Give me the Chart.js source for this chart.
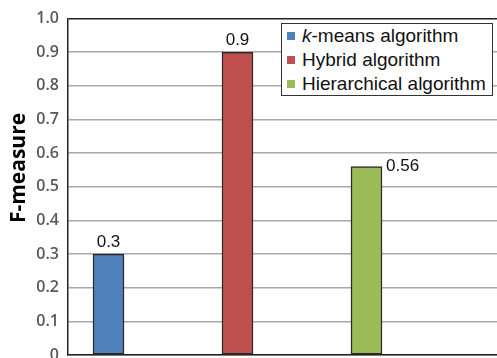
<!doctype html>
<html lang="en">
<head>
  <meta charset="utf-8">
  <title>F-measure</title>
  <script src="https://cdn.jsdelivr.net/npm/chart.js@4"></script>
  <style>
    html, body { margin: 0; padding: 0; background: #fff; overflow: hidden; }
    #wrap { position: relative; width: 530px; height: 380px; }
    #legend {
      position: absolute; left: 281px; top: 23px; width: 210px; height: 70px;
      border: 1px solid #333; background: #fff;
      font: 19px "Liberation Sans", Arial, sans-serif; color: #111;
      padding-top: 1px; box-sizing: content-box;
    }
    #legend div { height: 24px; line-height: 22px; white-space: nowrap; }
    #legend span.sw { display: inline-block; width: 8px; height: 8px; margin: 0 7px 0 5px; vertical-align: 2px; }
  </style>
</head>
<body>
  <div id="wrap">
    <canvas id="chart" width="530" height="380"></canvas>
    <div id="legend"></div>
  </div>

  <script>
    // data
    var algos = ['k-means algorithm', 'Hybrid algorithm', 'Hierarchical algorithm'];
    var fmeasure = [0.3, 0.9, 0.56];
    var colors = ['#4F81BD', '#C0504D', '#9BBB59'];
    var yTicks = [0, 0.1, 0.2, 0.3, 0.4, 0.5, 0.6, 0.7, 0.8, 0.9, 1.0];
    var yTitle = 'F-measure';

    // html legend (italic k)
    var leg = document.getElementById('legend');
    for (var i = 0; i < algos.length; i++) {
      var row = document.createElement('div');
      var sw = document.createElement('span');
      sw.className = 'sw';
      sw.style.background = colors[i];
      row.appendChild(sw);
      var name = algos[i];
      if (name.indexOf('k-') == 0) {
        var it = document.createElement('i');
        it.textContent = 'k';
        row.appendChild(it);
        row.appendChild(document.createTextNode(name.substring(1)));
      } else {
        row.appendChild(document.createTextNode(name));
      }
      leg.appendChild(row);
    }

    var datasets = [];
    for (var i = 0; i < algos.length; i++) {
      datasets.push({
        label: algos[i],
        data: [{ x: i + 1, y: fmeasure[i] }],
        backgroundColor: colors[i],
        borderColor: '#2a2a2a',
        borderWidth: 1.5,
        borderSkipped: false,
        barThickness: 31,
        grouped: false
      });
    }

    // where to put each value label
    var labelPlace = ['top', 'top', 'right'];

    const valueLabels = {
      id: 'valueLabels',
      afterDatasetsDraw(chart) {
        var ctx = chart.ctx;
        ctx.save();
        ctx.font = '17px "Liberation Sans", Arial, sans-serif';
        ctx.fillStyle = '#111';
        chart.data.datasets.forEach(function (ds, i) {
          var bar = chart.getDatasetMeta(i).data[0];
          var txt = String(fmeasure[i]);
          if (labelPlace[i] == 'right') {
            ctx.textAlign = 'left';
            ctx.textBaseline = 'middle';
            ctx.fillText(txt, bar.x + bar.width / 2 + 4, bar.y);
          } else {
            ctx.textAlign = 'center';
            ctx.textBaseline = 'bottom';
            ctx.fillText(txt, bar.x, bar.y - 3);
          }
        });
        ctx.restore();
      }
    };

    // axis title, sits a bit above the middle in the original
    const sideTitle = {
      id: 'sideTitle',
      afterDraw(chart) {
        var ctx = chart.ctx;
        ctx.save();
        ctx.translate(19, 168);
        ctx.rotate(-Math.PI / 2);
        ctx.font = 'bold 21px "Open Sans", sans-serif';
        ctx.fillStyle = '#000';
        ctx.textAlign = 'center';
        ctx.textBaseline = 'middle';
        ctx.fillText(yTitle, 0, 0);
        ctx.restore();
      }
    };

    new Chart(document.getElementById('chart'), {
      type: 'bar',
      data: { datasets: datasets },
      plugins: [valueLabels, sideTitle],
      options: {
        responsive: false,
        animation: false,
        layout: { padding: { top: 17, right: 10, bottom: 25, left: 0 } },
        plugins: { legend: { display: false }, tooltip: { enabled: false } },
        scales: {
          x: {
            type: 'linear',
            offset: false,
            min: 0.686,
            max: 4.19,
            ticks: { display: false },
            grid: { display: false },
            border: { display: true, color: '#222', width: 1.5 },
            afterFit: function (s) { s.height = 0; }
          },
          y: {
            min: 0,
            max: 1,
            afterBuildTicks: function (s) { s.ticks = yTicks.map(function (v) { return { value: v }; }); },
            ticks: {
              padding: 9,
              color: '#595959',
              font: { family: '"Open Sans", sans-serif', size: 16, weight: '600' },
              callback: function (v) { return v == 0 ? '0' : v.toFixed(1); }
            },
            grid: {
              drawTicks: false,
              color: function (c) { return c.tick && c.tick.value == 1 ? '#222' : '#a8a8a8'; },
              lineWidth: 1.5
            },
            border: { display: true, color: '#222', width: 1.5 },
            afterFit: function (s) { s.width = 68; }
          }
        }
      }
    });
  </script>
</body>
</html>
